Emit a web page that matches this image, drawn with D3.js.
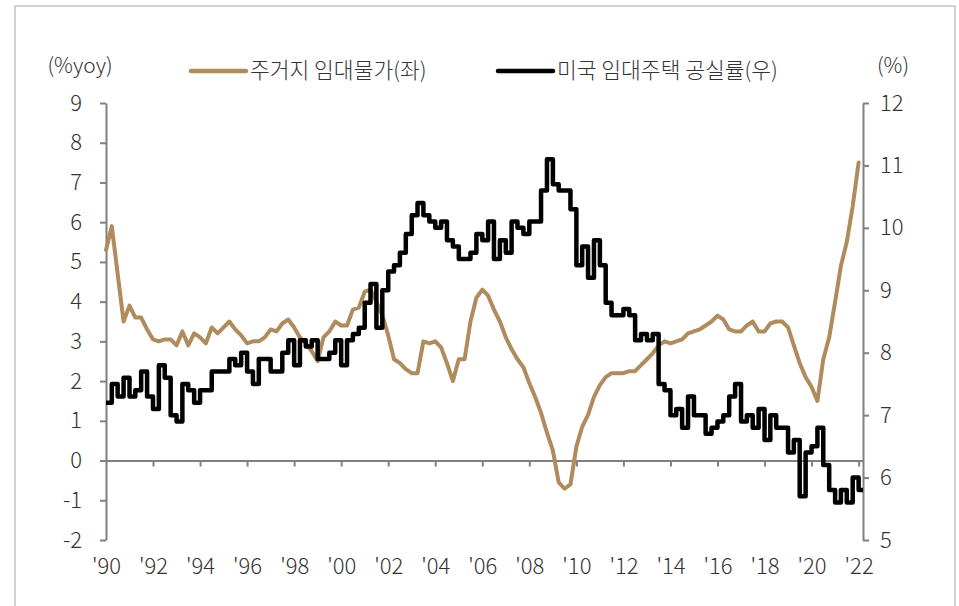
<!DOCTYPE html>
<html>
<head>
<meta charset="utf-8">
<script src="https://cdn.jsdelivr.net/npm/d3@7"></script>
<style>
  body { margin: 0; background: #fff; }
  text { font-family: "Noto Sans CJK KR", "Noto Sans", sans-serif; font-weight: 300; fill: #333; }
</style>
</head>
<body>
<svg id="chart" width="959" height="606"></svg>
<script>
// quarterly readings, 1990 Q1 .. 2022 Q1
// 주거지 임대물가 (%yoy, left axis)
var rentCpi = [
  5.3, 5.9, 4.7, 3.5, 3.9, 3.6, 3.6, 3.3, 3.05, 3.0,
  3.05, 3.05, 2.9, 3.25, 2.9, 3.2, 3.1, 2.95, 3.35, 3.2,
  3.35, 3.5, 3.3, 3.15, 2.95, 3.0, 3.0, 3.1, 3.3, 3.25,
  3.45, 3.55, 3.35, 3.1, 2.95, 2.75, 2.5, 3.1, 3.25, 3.5,
  3.4, 3.4, 3.8, 3.85, 4.25, 4.3, 4.0, 3.65, 3.15, 2.55,
  2.45, 2.3, 2.2, 2.2, 3.0, 2.95, 3.0, 2.85, 2.45, 2.0,
  2.55, 2.55, 3.5, 4.1, 4.3, 4.15, 3.8, 3.5, 3.1, 2.8,
  2.55, 2.35, 1.95, 1.6, 1.2, 0.7, 0.25, -0.55, -0.71, -0.6,
  0.35, 0.85, 1.15, 1.6, 1.9, 2.1, 2.2, 2.2, 2.2, 2.25,
  2.25, 2.4, 2.55, 2.7, 2.9, 3.0, 2.95, 3.0, 3.05, 3.2,
  3.25, 3.3, 3.4, 3.5, 3.65, 3.55, 3.3, 3.25, 3.25, 3.4,
  3.5, 3.25, 3.25, 3.45, 3.5, 3.5, 3.35, 2.9, 2.45, 2.1,
  1.85, 1.5, 2.55, 3.1, 4.0, 4.9, 5.5, 6.4, 7.5
];

// 미국 임대주택 공실률 (%, right axis)
var vacancy = [
  7.2, 7.5, 7.3, 7.6, 7.3, 7.4, 7.7, 7.3, 7.1, 7.8,
  7.6, 7.0, 6.9, 7.5, 7.4, 7.2, 7.4, 7.4, 7.7, 7.7,
  7.7, 7.9, 7.8, 8.0, 7.7, 7.5, 7.9, 7.9, 7.7, 7.7,
  8.0, 8.2, 7.8, 8.2, 8.1, 8.2, 7.9, 7.9, 8.0, 8.2,
  7.8, 8.2, 8.3, 8.4, 8.8, 9.1, 8.4, 9.0, 9.3, 9.4,
  9.6, 9.9, 10.2, 10.4, 10.2, 10.1, 10.0, 10.1, 9.8, 9.7,
  9.5, 9.5, 9.6, 9.9, 9.8, 10.1, 9.5, 9.8, 9.6, 10.1,
  10.0, 9.9, 10.1, 10.1, 10.6, 11.1, 10.7, 10.6, 10.6, 10.3,
  9.4, 9.7, 9.2, 9.8, 9.4, 8.8, 8.6, 8.6, 8.7, 8.6,
  8.2, 8.3, 8.2, 8.3, 7.5, 7.4, 7.0, 7.1, 6.8, 7.3,
  7.0, 7.0, 6.7, 6.8, 6.9, 7.0, 7.3, 7.5, 6.9, 7.0,
  6.8, 7.1, 6.6, 7.0, 6.8, 6.8, 6.4, 6.6, 5.7, 6.4,
  6.5, 6.8, 6.2, 5.8, 5.6, 5.8, 5.6, 6.0, 5.8
];

var leftTicks = [-2, -1, 0, 1, 2, 3, 4, 5, 6, 7, 8, 9];
var rightTicks = [5, 6, 7, 8, 9, 10, 11, 12];
var yearTicks = [1990, 1992, 1994, 1996, 1998, 2000, 2002, 2004, 2006, 2008,
  2010, 2012, 2014, 2016, 2018, 2020, 2022];
var legendNames = ["주거지 임대물가(좌)", "미국 임대주택 공실률(우)"];

var brown = "#b08b5e";
var axisGray = "#808080";

// one date per quarter
var quarters = d3.timeMonth.range(new Date(1990, 0, 1), new Date(2022, 1, 1), 3);

var svg = d3.select("#chart");

// outer frame
svg.append("rect")
  .attr("x", 15).attr("y", 6)
  .attr("width", 940).attr("height", 640)
  .attr("fill", "none")
  .attr("stroke", "#a6a6a6")
  .attr("stroke-width", 1);

var xEnd = new Date(2022, 2, 10);
var x = d3.scaleTime()
  .domain([new Date(1990, 0, 1), xEnd])
  .range([106, 863]);

var yL = d3.scaleLinear().domain([-2, 9]).range([540, 103]);
var yR = d3.scaleLinear().domain([5, 12]).range([540, 103]);

var plain = function(d) { return String(d); };  // keeps a plain hyphen for negatives

// left axis
var leftAxis = svg.append("g")
  .attr("transform", "translate(106,0)")
  .call(d3.axisLeft(yL).tickValues(leftTicks).tickFormat(plain)
    .tickSize(6).tickPadding(18).tickSizeOuter(0));

// right axis
var rightAxis = svg.append("g")
  .attr("transform", "translate(863,0)")
  .call(d3.axisRight(yR).tickValues(rightTicks).tickFormat(plain)
    .tickSize(6).tickPadding(11).tickSizeOuter(0));

// zero line with year ticks
var bottomAxis = svg.append("g")
  .attr("transform", "translate(0," + yL(0) + ")")
  .call(d3.axisBottom(x)
    .tickValues(yearTicks.map(function(y) { return new Date(y, 0, 1); }))
    .tickFormat(function(d) { return "'" + String(d.getFullYear()).slice(2); })
    .tickSize(6)
    .tickSizeOuter(0));

// push year labels below the plot
bottomAxis.selectAll(".tick text")
  .attr("y", yL(-2) - yL(0) + 34)
  .attr("dy", 0);
bottomAxis.selectAll(".tick").filter(function(d) { return d.getFullYear() === 1990; })
  .select("line").remove();

[leftAxis, rightAxis, bottomAxis].forEach(function(g) {
  g.select(".domain").attr("stroke", axisGray).attr("stroke-width", 2);
  g.selectAll(".tick line").attr("stroke", axisGray).attr("stroke-width", 2);
  g.selectAll(".tick text")
    .style("font-size", "22px")
    .style("font-family", "'Noto Sans CJK KR', 'Noto Sans', sans-serif")
    .attr("fill", "#333");
});

// unit labels
svg.append("text")
  .attr("x", 80).attr("y", 73)
  .attr("text-anchor", "middle")
  .style("font-size", "21px")
  .text("(%yoy)");

svg.append("text")
  .attr("x", 893).attr("y", 73)
  .attr("text-anchor", "middle")
  .style("font-size", "21px")
  .text("(%)");

// series lines
var rentLine = d3.line()
  .x(function(d, i) { return x(quarters[i]); })
  .y(function(d) { return yL(d); });

svg.append("path")
  .datum(rentCpi)
  .attr("d", rentLine)
  .attr("fill", "none")
  .attr("stroke", brown)
  .attr("stroke-width", 4)
  .attr("stroke-linejoin", "round")
  .attr("stroke-linecap", "round");

var vacPoints = vacancy.map(function(v, i) { return { date: quarters[i], v: v }; });
vacPoints.push({ date: xEnd, v: vacancy[vacancy.length - 1] });

var vacLine = d3.line()
  .curve(d3.curveStepAfter)
  .x(function(d) { return x(d.date); })
  .y(function(d) { return yR(d.v); });

svg.append("path")
  .datum(vacPoints)
  .attr("d", vacLine)
  .attr("fill", "none")
  .attr("stroke", "#000")
  .attr("stroke-width", 4.5)
  .attr("stroke-linejoin", "round");

// legend
var legend = [
  { name: legendNames[0], color: brown, x0: 191 },
  { name: legendNames[1], color: "#000", x0: 498 }
];
legend.forEach(function(l) {
  svg.append("line")
    .attr("x1", l.x0).attr("x2", l.x0 + 55)
    .attr("y1", 71).attr("y2", 71)
    .attr("stroke", l.color)
    .attr("stroke-width", 4.5)
    .attr("stroke-linecap", "round");
  svg.append("text")
    .attr("x", l.x0 + 59).attr("y", 78)
    .style("font-size", "21.5px")
    .text(l.name);
});
</script>
</body>
</html>
